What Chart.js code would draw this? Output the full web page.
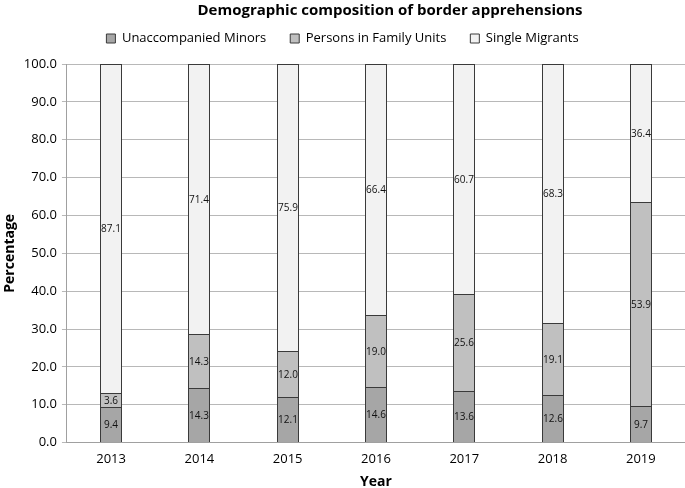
<!DOCTYPE html>
<html>
<head>
<meta charset="utf-8">
<script src="https://cdn.jsdelivr.net/npm/chart.js@4"></script>
<style>
  html, body { margin: 0; padding: 0; background: #fff; }
  #wrap { width: 685px; height: 488px; }
</style>
</head>
<body>
<div id="wrap"><canvas id="grafico"></canvas></div>
<script>
// dados
const years = ["2013", "2014", "2015", "2016", "2017", "2018", "2019"];
const minors = [9.4, 14.3, 12.1, 14.6, 13.6, 12.6, 9.7];
const familyUnits = [3.6, 14.3, 12.0, 19.0, 25.6, 19.1, 53.9];
const singleMigrants = [87.1, 71.4, 75.9, 66.4, 60.7, 68.3, 36.4];

const FONT = "'Open Sans', 'Noto Sans', sans-serif";

// deixa um espaço extra abaixo da legenda
const legendGap = {
  id: "legendGap",
  beforeLayout(chart) {
    const lg = chart.legend;
    if (lg && !lg._gapPatched) {
      const fitOrig = lg.fit.bind(lg);
      lg.fit = function () {
        fitOrig();
        this.height += 9;
      };
      lg._gapPatched = true;
    }
  }
};

// arredonda as barras para o pixel inteiro (bordas nítidas)
const snapBars = {
  id: "snapBars",
  beforeDatasetsDraw(chart) {
    chart.data.datasets.forEach(function (ds, i) {
      chart.getDatasetMeta(i).data.forEach(function (bar) {
        bar.x = Math.round(bar.x);
        bar.y = Math.round(bar.y);
        bar.base = Math.round(bar.base);
        bar.width = 22;
      });
    });
  }
};

// rótulos dentro das barras
const barLabels = {
  id: "barLabels",
  afterDatasetsDraw(chart) {
    const ctx = chart.ctx;
    ctx.save();
    ctx.font = "10px " + FONT;
    ctx.fillStyle = "#111";
    ctx.textAlign = "center";
    ctx.textBaseline = "middle";
    chart.data.datasets.forEach(function (ds, i) {
      chart.getDatasetMeta(i).data.forEach(function (bar, j) {
        const mid = (bar.y + bar.base) / 2;
        ctx.fillText(ds.data[j].toFixed(1), bar.x, mid + 1);
      });
    });
    ctx.restore();
  }
};

// título desenhado à mão (fica um pouco à direita do centro)
const titlePlugin = {
  id: "titlePlugin",
  afterDraw(chart) {
    const ctx = chart.ctx;
    ctx.save();
    ctx.font = "bold 15px " + FONT;
    ctx.fillStyle = "#000";
    ctx.textAlign = "center";
    ctx.textBaseline = "middle";
    ctx.fillText("Demographic composition of border apprehensions", 390, 11);
    ctx.restore();
  }
};

const borda = "#3a3a3a";

new Chart(document.getElementById("grafico"), {
  type: "bar",
  data: {
    labels: years,
    datasets: [
      { label: "Unaccompanied Minors", data: minors, backgroundColor: "#a6a6a6", borderColor: borda, borderWidth: 1 },
      { label: "Persons in Family Units", data: familyUnits, backgroundColor: "#c0c0c0", borderColor: borda, borderWidth: 1 },
      { label: "Single Migrants", data: singleMigrants, backgroundColor: "#f2f2f2", borderColor: borda, borderWidth: 1 }
    ]
  },
  options: {
    responsive: true,
    maintainAspectRatio: false,
    animation: false,
    layout: { padding: { top: 8, right: 0, left: 0, bottom: -2 } },
    datasets: { bar: { barPercentage: 0.25, categoryPercentage: 1.0 } },
    plugins: {
      legend: {
        position: "top",
        labels: {
          boxWidth: 9,
          boxHeight: 9,
          color: "#000",
          font: { family: FONT, size: 13 },
          padding: 24
        }
      },
      tooltip: { enabled: false }
    },
    scales: {
      x: {
        stacked: true,
        grid: { display: false, drawTicks: false, tickLength: 0 },
        border: { color: "#a0a0a0" },
        ticks: { color: "#000", font: { family: FONT, size: 13 }, padding: 9 },
        title: { display: true, text: "Year", color: "#000", font: { family: FONT, size: 14, weight: "bold" }, padding: { top: -3, bottom: 0 } }
      },
      y: {
        stacked: true,
        min: 0,
        max: 100,
        ticks: {
          stepSize: 10,
          padding: 5,
          color: "#000",
          font: { family: FONT, size: 13 },
          callback: function (v) { return v.toFixed(1); }
        },
        grid: { color: "#b8b8b8", drawTicks: true, tickLength: 5 },
        border: { color: "#a0a0a0" },
        title: { display: true, text: "Percentage", color: "#000", font: { family: FONT, size: 14, weight: "bold" }, padding: { top: 2, bottom: 0 } }
      }
    }
  },
  plugins: [legendGap, snapBars, barLabels, titlePlugin]
});
</script>
</body>
</html>
